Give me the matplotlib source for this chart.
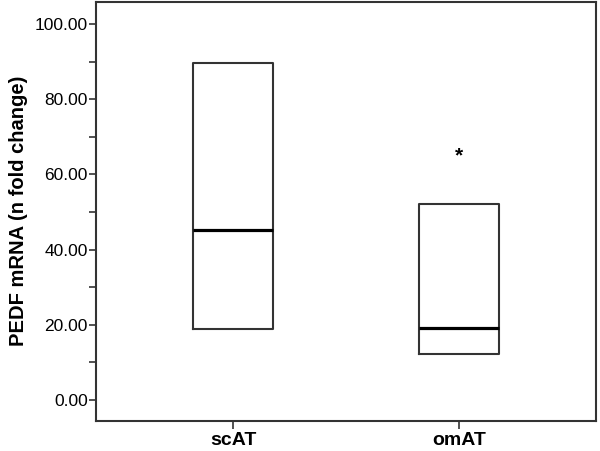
import matplotlib
matplotlib.use('Agg')
import matplotlib.pyplot as plt
from matplotlib.ticker import FuncFormatter

plt.rcParams['font.family'] = ['Liberation Sans', 'DejaVu Sans']

groups = ["scAT", "omAT"]
q1 = [18.8, 12.2]
median = [45.2, 19.2]
q3 = [89.7, 52.1]
outliers = [[], [65.0]]

stats = []
for g, a, m, b in zip(groups, q1, median, q3):
    stats.append(dict(label=g, q1=a, med=m, q3=b, whislo=a, whishi=b, fliers=[]))

fig = plt.figure(figsize=(6, 4.51), dpi=100)
ax = fig.add_axes([0.16, 0.0665, 0.8333, 0.93])

edge = "#333333"
ax.bxp(stats, positions=range(len(groups)), widths=0.35, showcaps=False,
       showfliers=False, patch_artist=False,
       boxprops=dict(color=edge, linewidth=1.5),
       whiskerprops=dict(color=edge, linewidth=1.5),
       medianprops=dict(color="black", linewidth=2.3))

for i, fl in enumerate(outliers):
    for v in fl:
        ax.text(i, v, "*", ha="center", va="center", fontsize=15,
                fontweight="bold", color="black")

ax.set_xlim(-0.606, 1.606)
ax.set_ylim(-5.6, 106)
ax.set_yticks(list(range(0, 101, 10)))
ax.yaxis.set_major_formatter(FuncFormatter(
    lambda v, p: f"{v:.2f}" if round(v) % 20 == 0 else ""))
ax.set_xticks(range(len(groups)))
ax.set_xticklabels(groups, fontweight="bold", fontsize=14)
ax.tick_params(axis='y', labelsize=12.5, length=5, width=1.2, color=edge, pad=1)
ax.tick_params(axis='x', length=6, width=1.2, color=edge, pad=2)
for s in ax.spines.values():
    s.set_color(edge)
    s.set_linewidth(1.5)

ax.set_ylabel("PEDF mRNA (n fold change)", fontweight="bold", fontsize=14.5, labelpad=5)

fig.savefig("out.png", dpi=100)
